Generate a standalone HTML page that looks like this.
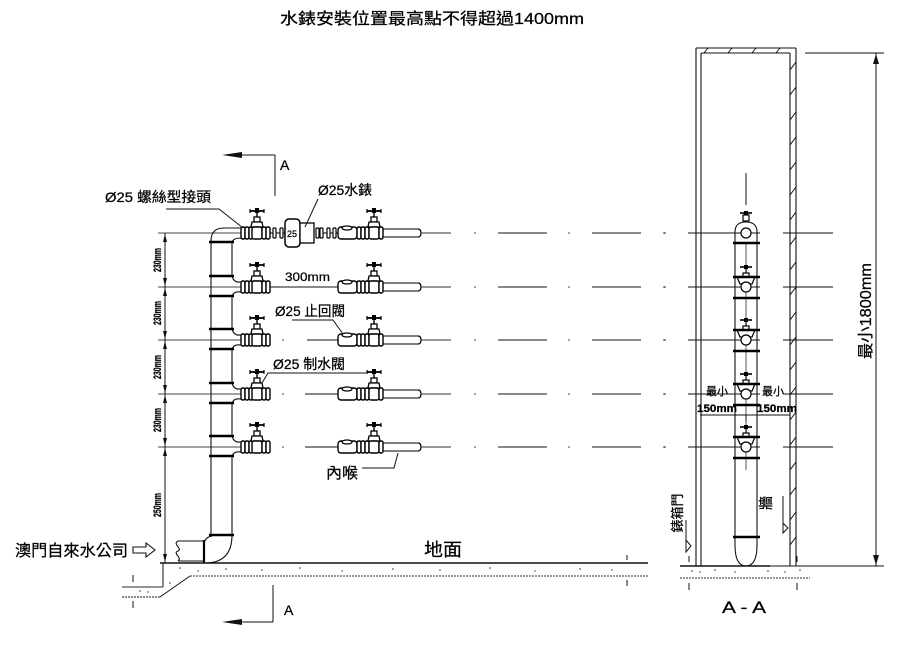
<!DOCTYPE html>
<html><head><meta charset="utf-8">
<style>
html,body{margin:0;padding:0;background:#fff;}
svg{display:block;}
text{font-family:"Liberation Sans","Noto Sans CJK TC",sans-serif;fill:#000;stroke:#000;stroke-width:0.25;}
</style></head>
<body>
<svg width="900" height="648" viewBox="0 0 900 648" xmlns="http://www.w3.org/2000/svg">
<defs>
  <g id="nut"><rect x="-2" y="-6" width="4" height="12" rx="1.6" fill="#fff" stroke="#000" stroke-width="1.4"/></g>
  <g id="valve">
    <line x1="-7" y1="-22" x2="7" y2="-22" stroke="#000" stroke-width="1.8"/>
    <line x1="-7" y1="-24" x2="-7" y2="-20" stroke="#000" stroke-width="1.2"/>
    <line x1="7" y1="-24" x2="7" y2="-20" stroke="#000" stroke-width="1.2"/>
    <rect x="-2" y="-25" width="4" height="5" fill="#000"/>
    <line x1="0" y1="-20" x2="0" y2="-16" stroke="#000" stroke-width="1.4"/>
    <rect x="-3" y="-16" width="6" height="5" fill="#fff" stroke="#000" stroke-width="1.3"/>
    <path d="M-5,-11 L5,-11 L6,-6 L-6,-6 Z" fill="#fff" stroke="#000" stroke-width="1.3"/>
    <rect x="-5" y="-6" width="10" height="12" rx="2" fill="#fff" stroke="#000" stroke-width="1.4"/>
  </g>
  <g id="leftasm">
    <use href="#nut" x="243"/><use href="#nut" x="247"/><use href="#nut" x="251"/>
    <use href="#valve" x="257"/>
    <use href="#nut" x="264"/><use href="#nut" x="268"/>
  </g>
  <g id="rightasm">
    <rect x="338" y="-6" width="19" height="12" rx="3" fill="#fff" stroke="#000" stroke-width="1.4"/>
    <ellipse cx="347" cy="-5" rx="5" ry="2" fill="#fff" stroke="#000" stroke-width="1.2"/>
    <use href="#nut" x="359"/><use href="#nut" x="363"/><use href="#nut" x="367"/>
    <use href="#valve" x="374"/>
    <use href="#nut" x="381"/>
    <line x1="383" y1="-4" x2="418" y2="-4" stroke="#000" stroke-width="1.1"/>
    <line x1="383" y1="4" x2="418" y2="4" stroke="#000" stroke-width="1.1"/>
    <path d="M418,-4 Q421,-4 421,0 Q421,4 418,4" fill="none" stroke="#000" stroke-width="1.2"/>
    <line x1="421" y1="0" x2="451" y2="0" stroke="#333" stroke-width="1.1"/>
    <circle cx="475" cy="0" r="0.8" fill="#333"/>
    <line x1="498" y1="0" x2="547" y2="0" stroke="#111" stroke-width="1.1"/>
    <circle cx="569" cy="0" r="0.8" fill="#333"/>
    <line x1="592" y1="0" x2="641" y2="0" stroke="#444" stroke-width="1.3"/>
    <circle cx="665" cy="0" r="0.8" fill="#333"/>
    <line x1="688" y1="0" x2="760" y2="0" stroke="#111" stroke-width="1.1"/>
    <line x1="783" y1="0" x2="833" y2="0" stroke="#111" stroke-width="1.1"/>
  </g>
  <g id="secvalve">
    <line x1="-6" y1="-20" x2="6" y2="-20" stroke="#000" stroke-width="1.6"/>
    <rect x="-2" y="-22" width="4" height="4" fill="#000"/>
    <line x1="0" y1="-18" x2="0" y2="-14" stroke="#000" stroke-width="1.2"/>
    <rect x="-3" y="-14" width="6" height="4" fill="#fff" stroke="#000" stroke-width="1.2"/>
    <path d="M-9,-10 L9,-10 L6,-3 L-6,-3 Z" fill="#fff" stroke="#000" stroke-width="1.2"/>
    <circle cx="0" cy="0" r="5" fill="#fff" stroke="#000" stroke-width="1.2"/>
  </g>
</defs>

<!-- Title -->
<text x="280" y="24" font-size="16" textLength="304" lengthAdjust="spacingAndGlyphs">水錶安裝位置最高點不得超過1400mm</text>

<!-- Section A markers -->
<line x1="275" y1="155" x2="275" y2="196" stroke="#111" stroke-width="1"/>
<line x1="232" y1="155" x2="275" y2="155" stroke="#111" stroke-width="1"/>
<path d="M222,155 L242,152 L242,158 Z" fill="#111"/>
<text x="280" y="170" font-size="14">A</text>

<line x1="273" y1="585" x2="273" y2="622" stroke="#111" stroke-width="1"/>
<line x1="232" y1="622" x2="273" y2="622" stroke="#111" stroke-width="1"/>
<path d="M222,622 L242,619 L242,625 Z" fill="#111"/>
<text x="284" y="615" font-size="14">A</text>

<!-- row lines through riser (left) -->
<g stroke="#444" stroke-width="1.1">
  <line x1="158" y1="233" x2="242" y2="233"/>
  <line x1="158" y1="287" x2="242" y2="287"/>
  <line x1="158" y1="340" x2="242" y2="340"/>
  <line x1="158" y1="394" x2="242" y2="394"/>
  <line x1="158" y1="447" x2="242" y2="447"/>
</g>

<!-- dimension line -->
<line x1="165" y1="233" x2="165" y2="563" stroke="#111" stroke-width="1"/>
<g fill="#111">
  <path d="M165,234 L163,242 L167,242 Z"/>
  <path d="M165,286 L163,278 L167,278 Z"/>
  <path d="M165,288 L163,296 L167,296 Z"/>
  <path d="M165,339 L163,331 L167,331 Z"/>
  <path d="M165,341 L163,349 L167,349 Z"/>
  <path d="M165,393 L163,385 L167,385 Z"/>
  <path d="M165,395 L163,403 L167,403 Z"/>
  <path d="M165,446 L163,438 L167,438 Z"/>
  <path d="M165,448 L163,456 L167,456 Z"/>
  <path d="M165,562 L163,554 L167,554 Z"/>
</g>
<g font-size="11" font-weight="bold">
  <text transform="translate(161,260) rotate(-90)" text-anchor="middle" textLength="24" lengthAdjust="spacingAndGlyphs">230mm</text>
  <text transform="translate(161,313) rotate(-90)" text-anchor="middle" textLength="24" lengthAdjust="spacingAndGlyphs">230mm</text>
  <text transform="translate(161,367) rotate(-90)" text-anchor="middle" textLength="24" lengthAdjust="spacingAndGlyphs">230mm</text>
  <text transform="translate(161,420) rotate(-90)" text-anchor="middle" textLength="24" lengthAdjust="spacingAndGlyphs">230mm</text>
  <text transform="translate(161,505) rotate(-90)" text-anchor="middle" textLength="24" lengthAdjust="spacingAndGlyphs">250mm</text>
</g>

<!-- Riser pipe -->
<g fill="none" stroke="#111" stroke-width="1.1">
  <line x1="211" y1="241" x2="211" y2="537"/>
  <path d="M211,241 Q211,228 224,228 L242,228"/>
  <path d="M232,243 Q232,238 242,238"/>
  <line x1="232" y1="243" x2="232" y2="276"/>
  <path d="M232,275 Q233,283 241,282"/>
  <path d="M241,292 Q233,291 232,297"/>
  <line x1="232" y1="297" x2="232" y2="329"/>
  <path d="M232,328 Q233,336 241,335"/>
  <path d="M241,345 Q233,344 232,350"/>
  <line x1="232" y1="350" x2="232" y2="383"/>
  <path d="M232,382 Q233,390 241,389"/>
  <path d="M241,399 Q233,398 232,404"/>
  <line x1="232" y1="404" x2="232" y2="436"/>
  <path d="M232,435 Q233,443 241,442"/>
  <path d="M241,452 Q233,451 232,457"/>
  <line x1="232" y1="457" x2="232" y2="535"/>
  <path d="M232,535 Q232,563 205,563"/>
  <path d="M211,536 Q205,538 204,543"/>
</g>
<g stroke="#000" stroke-width="2.4">
  <line x1="209" y1="242" x2="234" y2="242"/>
  <line x1="209" y1="276" x2="234" y2="276"/>
  <line x1="209" y1="296" x2="234" y2="296"/>
  <line x1="209" y1="329" x2="234" y2="329"/>
  <line x1="209" y1="349" x2="234" y2="349"/>
  <line x1="209" y1="383" x2="234" y2="383"/>
  <line x1="209" y1="403" x2="234" y2="403"/>
  <line x1="209" y1="436" x2="234" y2="436"/>
  <line x1="209" y1="456" x2="234" y2="456"/>
  <line x1="209" y1="535" x2="234" y2="535"/>
</g>
<line x1="204" y1="540" x2="204" y2="563" stroke="#000" stroke-width="2.2"/>

<!-- supply pipe -->
<g fill="none" stroke="#111" stroke-width="1.1">
  <line x1="178" y1="541" x2="204" y2="541"/>
  <line x1="178" y1="561" x2="204" y2="561"/>
  <path d="M178,541 C172,544 183,549 178,551 C172,553 183,558 178,561"/>
</g>
<text x="15" y="556" font-size="16" textLength="113" lengthAdjust="spacingAndGlyphs">澳門自來水公司</text>
<path d="M133,547 L146,547 L146,543 L155,550 L146,557 L146,553 L133,553 Z" fill="#fff" stroke="#111" stroke-width="1.1"/>

<!-- ground left -->
<g stroke="#111" stroke-width="1" fill="none">
  <line x1="160" y1="563" x2="648" y2="563" stroke-width="1.4"/>
  <line x1="163" y1="563" x2="163" y2="587"/>
  <line x1="122" y1="587" x2="163" y2="587" stroke="#555" stroke-width="1.3"/>
  <line x1="122" y1="597" x2="160" y2="597" stroke-dasharray="2,1"/>
  <line x1="160" y1="597" x2="190" y2="576"/>
  <line x1="190" y1="576" x2="648" y2="576" stroke-dasharray="2,1" stroke="#333"/>
  <line x1="133" y1="575" x2="133" y2="582"/>
  <line x1="133" y1="601" x2="133" y2="608"/>
  <line x1="627" y1="555" x2="627" y2="560"/>
  <line x1="627" y1="580" x2="627" y2="586"/>
</g>
<g fill="#333">
  <circle cx="180" cy="568" r="0.8"/><circle cx="198" cy="571" r="0.7"/><circle cx="226" cy="569" r="0.8"/>
  <circle cx="262" cy="570" r="0.7"/><circle cx="300" cy="568" r="0.8"/><circle cx="342" cy="571" r="0.7"/>
  <circle cx="393" cy="569" r="0.8"/><circle cx="440" cy="570" r="0.7"/><circle cx="490" cy="568" r="0.8"/>
  <circle cx="535" cy="571" r="0.7"/><circle cx="580" cy="569" r="0.8"/><circle cx="612" cy="570" r="0.7"/>
  <circle cx="140" cy="591" r="0.8"/><circle cx="148" cy="592" r="0.7"/><circle cx="170" cy="583" r="0.8"/>
</g>
<text x="424" y="556" font-size="18" textLength="38" lengthAdjust="spacingAndGlyphs">地面</text>

<!-- Branch assemblies -->
<g transform="translate(0,233)">
  <use href="#leftasm"/>
  <line x1="270" y1="0" x2="285" y2="0" stroke="#111" stroke-width="1.1"/>
  <rect x="273" y="-5" width="3" height="10" rx="1" fill="#fff" stroke="#000" stroke-width="1.2"/>
  <rect x="280" y="-5" width="3" height="10" rx="1" fill="#fff" stroke="#000" stroke-width="1.2"/>
  <rect x="285" y="-14" width="15" height="28" rx="4" fill="#fff" stroke="#000" stroke-width="1.5"/>
  <text x="287" y="4" font-size="9">25</text>
  <rect x="300" y="-10" width="14" height="20" fill="#fff" stroke="#000" stroke-width="1.3"/>
  <rect x="316" y="-5" width="3" height="10" rx="1" fill="#fff" stroke="#000" stroke-width="1.2"/>
  <rect x="320" y="-5" width="3" height="10" rx="1" fill="#fff" stroke="#000" stroke-width="1.2"/>
  <line x1="323" y1="0" x2="338" y2="0" stroke="#111" stroke-width="1.1"/>
  <rect x="327" y="-5" width="3" height="10" rx="1" fill="#fff" stroke="#000" stroke-width="1.2"/>
  <rect x="333" y="-5" width="3" height="10" rx="1" fill="#fff" stroke="#000" stroke-width="1.2"/>
  <use href="#rightasm"/>
</g>
<g transform="translate(0,287)">
  <use href="#leftasm"/>
  <line x1="270" y1="0" x2="338" y2="0" stroke="#111" stroke-width="1.1"/>
  <use href="#rightasm"/>
</g>
<g transform="translate(0,340)">
  <use href="#leftasm"/>
  <circle cx="283" cy="0" r="0.8" fill="#333"/>
  <line x1="307" y1="0" x2="338" y2="0" stroke="#111" stroke-width="1.1"/>
  <use href="#rightasm"/>
</g>
<g transform="translate(0,394)">
  <use href="#leftasm"/>
  <circle cx="283" cy="0" r="0.8" fill="#333"/>
  <line x1="305" y1="0" x2="338" y2="0" stroke="#111" stroke-width="1.1"/>
  <use href="#rightasm"/>
</g>
<g transform="translate(0,447)">
  <use href="#leftasm"/>
  <circle cx="283" cy="0" r="0.8" fill="#333"/>
  <line x1="305" y1="0" x2="338" y2="0" stroke="#111" stroke-width="1.1"/>
  <use href="#rightasm"/>
</g>

<!-- labels & leaders -->
<text x="105" y="202" font-size="14" textLength="106" lengthAdjust="spacingAndGlyphs">Ø25 螺絲型接頭</text>
<polyline points="166,209 219,209 243,228" fill="none" stroke="#111" stroke-width="1"/>
<text x="318" y="195" font-size="14" textLength="54" lengthAdjust="spacingAndGlyphs">Ø25水錶</text>
<line x1="318" y1="199" x2="305" y2="227" stroke="#111" stroke-width="1"/>
<text x="285" y="281" font-size="12" textLength="45" lengthAdjust="spacingAndGlyphs">300mm</text>
<text x="275" y="316" font-size="14" textLength="70" lengthAdjust="spacingAndGlyphs">Ø25 止回閥</text>
<polyline points="292,320 333,320 343,334" fill="none" stroke="#111" stroke-width="1"/>
<text x="273" y="369" font-size="14" textLength="72" lengthAdjust="spacingAndGlyphs">Ø25 制水閥</text>
<polyline points="262,383 268,373 366,373" fill="none" stroke="#111" stroke-width="1"/>
<text x="326" y="478" font-size="15" textLength="32" lengthAdjust="spacingAndGlyphs">內喉</text>
<polyline points="362,468 394,468 398,453" fill="none" stroke="#111" stroke-width="1"/>

<!-- Section A-A (right) -->
<g stroke="#111" stroke-width="1.1" fill="none">
  <line x1="696" y1="48" x2="696" y2="566"/>
  <line x1="701" y1="53" x2="701" y2="566"/>
  <line x1="790" y1="53" x2="790" y2="566"/>
  <line x1="796" y1="48" x2="796" y2="566"/>
  <line x1="696" y1="48" x2="796" y2="48"/>
  <line x1="701" y1="53" x2="790" y2="53"/>
</g>
<g stroke="#111" stroke-width="1">
  <line x1="704" y1="53" x2="708" y2="48"/><line x1="728" y1="53" x2="732" y2="48"/>
  <line x1="752" y1="53" x2="756" y2="48"/><line x1="776" y1="53" x2="780" y2="48"/>
  <line x1="790" y1="70" x2="796" y2="62"/><line x1="790" y1="95" x2="796" y2="87"/>
  <line x1="790" y1="120" x2="796" y2="112"/><line x1="790" y1="145" x2="796" y2="137"/>
  <line x1="790" y1="170" x2="796" y2="162"/><line x1="790" y1="195" x2="796" y2="187"/>
  <line x1="790" y1="220" x2="796" y2="212"/><line x1="790" y1="245" x2="796" y2="237"/>
  <line x1="790" y1="270" x2="796" y2="262"/><line x1="790" y1="295" x2="796" y2="287"/>
  <line x1="790" y1="320" x2="796" y2="312"/><line x1="790" y1="345" x2="796" y2="337"/>
  <line x1="790" y1="370" x2="796" y2="362"/><line x1="790" y1="395" x2="796" y2="387"/>
  <line x1="790" y1="420" x2="796" y2="412"/><line x1="790" y1="445" x2="796" y2="437"/>
  <line x1="790" y1="470" x2="796" y2="462"/><line x1="790" y1="495" x2="796" y2="487"/>
  <line x1="790" y1="520" x2="796" y2="512"/><line x1="790" y1="545" x2="796" y2="537"/>
</g>
<circle cx="664" cy="233" r="0.8" fill="#333"/>
<circle cx="664" cy="287" r="0.8" fill="#333"/>
<circle cx="664" cy="340" r="0.8" fill="#333"/>
<circle cx="664" cy="394" r="0.8" fill="#333"/>
<circle cx="664" cy="447" r="0.8" fill="#333"/>

<!-- section pipe -->
<line x1="746" y1="173" x2="746" y2="205" stroke="#111" stroke-width="1"/>
<g fill="none" stroke="#111" stroke-width="1.1">
  <path d="M735,243 L735,232 Q735,222 746,222 Q757,222 757,232 L757,243"/>
  <line x1="735" y1="243" x2="735" y2="545"/>
  <line x1="757" y1="243" x2="757" y2="545"/>
  <path d="M735,545 Q735,566 746,566 Q757,566 757,545"/>
  <line x1="746" y1="243" x2="746" y2="470" stroke="#555" stroke-width="1"/>
</g>
<g>
  <line x1="740" y1="213" x2="752" y2="213" stroke="#000" stroke-width="1.6"/>
  <rect x="744" y="211" width="4" height="4" fill="#000"/>
  <rect x="743" y="215" width="6" height="6" fill="#fff" stroke="#000" stroke-width="1.2"/>
  <circle cx="746" cy="233" r="5" fill="#fff" stroke="#000" stroke-width="1.2"/>
</g>
<use href="#secvalve" x="746" y="287"/>
<use href="#secvalve" x="746" y="340"/>
<use href="#secvalve" x="746" y="394"/>
<use href="#secvalve" x="746" y="447"/>
<g stroke="#000" stroke-width="2.4">
  <line x1="733" y1="243" x2="760" y2="243"/>
  <line x1="733" y1="277" x2="760" y2="277"/>
  <line x1="733" y1="298" x2="760" y2="298"/>
  <line x1="733" y1="330" x2="760" y2="330"/>
  <line x1="733" y1="351" x2="760" y2="351"/>
  <line x1="733" y1="384" x2="760" y2="384"/>
  <line x1="733" y1="405" x2="760" y2="405"/>
  <line x1="733" y1="437" x2="760" y2="437"/>
  <line x1="733" y1="458" x2="760" y2="458"/>
  <line x1="733" y1="537" x2="760" y2="537"/>
</g>

<!-- 150mm dims -->
<text x="706" y="395" font-size="11" textLength="22" lengthAdjust="spacingAndGlyphs">最小</text>
<text x="762" y="395" font-size="11" textLength="22" lengthAdjust="spacingAndGlyphs">最小</text>
<text x="697" y="412" font-size="11" font-weight="bold" textLength="40" lengthAdjust="spacingAndGlyphs">150mm</text>
<text x="757" y="412" font-size="11" font-weight="bold" textLength="40" lengthAdjust="spacingAndGlyphs">150mm</text>
<line x1="700" y1="415" x2="790" y2="415" stroke="#111" stroke-width="1"/>
<line x1="746" y1="415" x2="746" y2="421" stroke="#111" stroke-width="1"/>

<!-- door / wall labels -->
<text transform="translate(682,513) rotate(-90)" text-anchor="middle" font-size="13">錶箱門</text>
<line x1="686" y1="520" x2="686" y2="552" stroke="#111" stroke-width="1"/>
<path d="M686,540 L691,546 L686,552 Z" fill="#fff" stroke="#111" stroke-width="1"/>
<text transform="translate(771,503) rotate(-90)" text-anchor="middle" font-size="14">牆</text>
<line x1="783" y1="496" x2="783" y2="533" stroke="#111" stroke-width="1"/>
<path d="M783,523 L788,528 L783,533 Z" fill="#fff" stroke="#111" stroke-width="1"/>

<!-- right dim -->
<line x1="805" y1="53" x2="884" y2="53" stroke="#111" stroke-width="1"/>
<line x1="770" y1="566" x2="884" y2="566" stroke="#111" stroke-width="1"/>
<line x1="876" y1="53" x2="876" y2="566" stroke="#111" stroke-width="1"/>
<path d="M876,54 L873,64 L879,64 Z" fill="#111"/>
<path d="M876,565 L873,555 L879,555 Z" fill="#111"/>
<text transform="translate(871,311) rotate(-90)" text-anchor="middle" font-size="16" textLength="96" lengthAdjust="spacingAndGlyphs">最小1800mm</text>

<!-- section ground -->
<line x1="680" y1="566" x2="770" y2="566" stroke="#111" stroke-width="1.4"/>
<line x1="680" y1="578" x2="810" y2="578" stroke="#333" stroke-width="1" stroke-dasharray="2,1"/>
<g stroke="#111" stroke-width="1">
  <line x1="689" y1="556" x2="689" y2="562"/><line x1="689" y1="583" x2="689" y2="590"/>
  <line x1="797" y1="556" x2="797" y2="562"/><line x1="797" y1="583" x2="797" y2="590"/>
</g>
<g fill="#333">
  <circle cx="692" cy="571" r="0.8"/><circle cx="700" cy="572" r="0.7"/><circle cx="715" cy="570" r="0.8"/>
  <circle cx="735" cy="572" r="0.7"/><circle cx="768" cy="571" r="0.8"/><circle cx="785" cy="572" r="0.7"/><circle cx="800" cy="570" r="0.8"/>
</g>
<text x="722" y="613" font-size="17" textLength="44" lengthAdjust="spacingAndGlyphs">A - A</text>
</svg>
</body></html>
